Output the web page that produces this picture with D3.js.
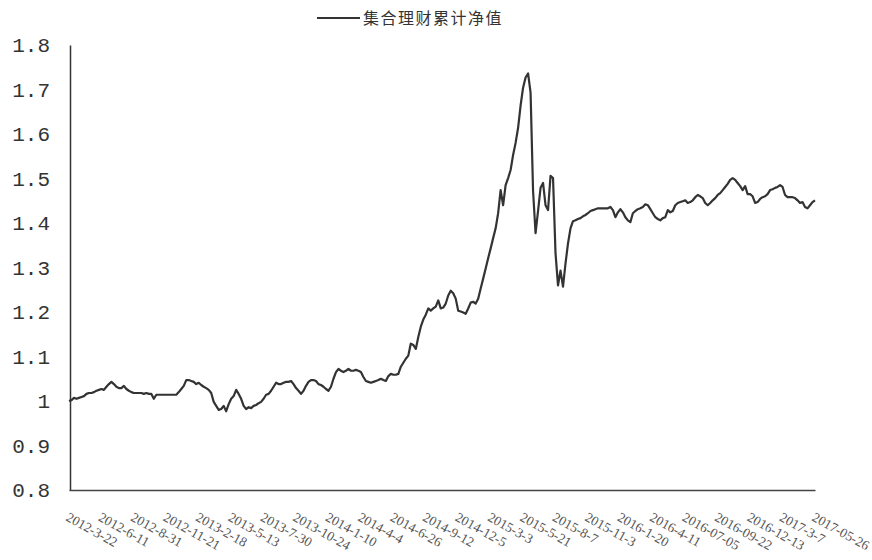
<!DOCTYPE html>
<html>
<head>
<meta charset="utf-8">
<script src="https://cdn.jsdelivr.net/npm/d3@7"></script>
<style>
  body { margin: 0; background: #fff; }
</style>
</head>
<body>
<svg id="chart"></svg>
<script>
// accumulated NAV at even steps along the x axis
const navValues = [
  1.000, 1.002, 1.007, 1.005, 1.007, 1.009, 1.011, 1.016, 1.018, 1.018,
  1.020, 1.023, 1.025, 1.027, 1.025, 1.032, 1.038, 1.043, 1.038, 1.032,
  1.029, 1.029, 1.034, 1.027, 1.023, 1.020, 1.018, 1.018, 1.018, 1.018,
  1.016, 1.018, 1.016, 1.016, 1.005, 1.014, 1.014, 1.014, 1.014, 1.014,
  1.014, 1.014, 1.014, 1.014, 1.020, 1.027, 1.034, 1.047, 1.047, 1.045,
  1.043, 1.038, 1.041, 1.036, 1.032, 1.029, 1.025, 1.018, 0.998, 0.989,
  0.980, 0.982, 0.989, 0.977, 0.993, 1.005, 1.011, 1.025, 1.016, 1.005,
  0.989, 0.982, 0.986, 0.984, 0.989, 0.991, 0.995, 0.998, 1.005, 1.014,
  1.016, 1.023, 1.032, 1.041, 1.038, 1.038, 1.041, 1.043, 1.043, 1.045,
  1.038, 1.029, 1.023, 1.016, 1.023, 1.034, 1.043, 1.047, 1.047, 1.045,
  1.038, 1.036, 1.032, 1.027, 1.023, 1.032, 1.050, 1.065, 1.072, 1.068,
  1.065, 1.068, 1.072, 1.068, 1.068, 1.070, 1.068, 1.065, 1.054, 1.045,
  1.043, 1.041, 1.043, 1.045, 1.047, 1.050, 1.047, 1.045, 1.056, 1.061,
  1.059, 1.059, 1.061, 1.077, 1.086, 1.095, 1.102, 1.129, 1.126, 1.117,
  1.144, 1.167, 1.183, 1.194, 1.208, 1.203, 1.208, 1.212, 1.226, 1.208,
  1.210, 1.219, 1.237, 1.248, 1.242, 1.230, 1.203, 1.201, 1.199, 1.196,
  1.208, 1.221, 1.223, 1.219, 1.230, 1.253, 1.275, 1.298, 1.321, 1.343,
  1.366, 1.388, 1.422, 1.474, 1.440, 1.485, 1.501, 1.519, 1.553, 1.580,
  1.614, 1.664, 1.704, 1.727, 1.736, 1.693, 1.472, 1.377, 1.427, 1.479,
  1.490, 1.440, 1.429, 1.506, 1.501, 1.332, 1.260, 1.293, 1.257, 1.309,
  1.354, 1.388, 1.404, 1.406, 1.409, 1.411, 1.415, 1.418, 1.422, 1.427,
  1.429, 1.431, 1.433, 1.433, 1.433, 1.433, 1.433, 1.436, 1.429, 1.413,
  1.424, 1.431, 1.424, 1.413, 1.406, 1.402, 1.422, 1.427, 1.431, 1.433,
  1.436, 1.442, 1.440, 1.431, 1.422, 1.413, 1.409, 1.406, 1.411, 1.413,
  1.429, 1.424, 1.427, 1.440, 1.445, 1.447, 1.449, 1.451, 1.445, 1.447,
  1.451, 1.458, 1.463, 1.460, 1.456, 1.445, 1.440, 1.445, 1.451, 1.456,
  1.463, 1.467, 1.474, 1.481, 1.488, 1.497, 1.501, 1.497, 1.490, 1.483,
  1.474, 1.483, 1.465, 1.465, 1.460, 1.445, 1.447, 1.454, 1.458, 1.460,
  1.465, 1.474, 1.476, 1.479, 1.481, 1.485, 1.481, 1.463, 1.458, 1.458,
  1.458, 1.456, 1.451, 1.445, 1.447, 1.436, 1.433, 1.440, 1.447, 1.451
];

const yTicks = [0.8, 0.9, 1, 1.1, 1.2, 1.3, 1.4, 1.5, 1.6, 1.7, 1.8];
const yTickLabels = ["0.8", "0.9", "1", "1.1", "1.2", "1.3", "1.4", "1.5", "1.6", "1.7", "1.8"];

const dateLabels = [
  "2012-3-22", "2012-6-11", "2012-8-31", "2012-11-21", "2013-2-18", "2013-5-13",
  "2013-7-30", "2013-10-24", "2014-1-10", "2014-4-4", "2014-6-26", "2014-9-12",
  "2014-12-5", "2015-3-3", "2015-5-21", "2015-8-7", "2015-11-3", "2016-1-20",
  "2016-4-11", "2016-07-05", "2016-09-22", "2016-12-13", "2017-3-7", "2017-05-26"
];

const seriesName = "集合理财累计净值";

const W = 872, H = 560;
const margin = { top: 45, right: 52, bottom: 70, left: 70 };
const width = W - margin.left - margin.right;
const height = H - margin.top - margin.bottom;

const svg = d3.select("#chart")
    .attr("width", W)
    .attr("height", H);

const chart = svg.append("g")
    .attr("transform", `translate(${margin.left},${margin.top})`);

const xScale = d3.scaleLinear()
    .domain([0, navValues.length - 1])
    .range([-1, width - 5]);

const yScale = d3.scaleLinear()
    .domain([0.8, 1.8])
    .range([height, 0]);

// y axis: plain line with labels on the left
const yAxis = d3.axisLeft(yScale)
    .tickValues(yTicks)
    .tickSize(0)
    .tickPadding(20)
    .tickFormat((d, i) => yTickLabels[i]);

chart.append("g")
    .attr("class", "myY")
    .call(yAxis)
    .call(g => g.select(".domain").attr("stroke", "#333").attr("stroke-width", 1.5))
    .call(g => g.selectAll("text")
        .attr("font-family", "'Liberation Mono', 'DejaVu Sans Mono', monospace")
        .attr("font-size", 21)
        .attr("fill", "#333"));

// x axis: line only, date labels drawn rotated below
const xAxis = d3.axisBottom(xScale).tickValues([]).tickSize(0);
chart.append("g")
    .attr("class", "myX")
    .attr("transform", `translate(0, ${height})`)
    .call(xAxis)
    .call(g => g.select(".domain").attr("stroke", "#444").attr("stroke-width", 1.5));

const step = (navValues.length - 1) / (dateLabels.length - 1);
chart.selectAll(".dateLabel")
    .data(dateLabels)
    .join("text")
      .attr("class", "dateLabel")
      .attr("transform", (d, i) => `translate(${xScale(i * step) - 4},${height + 30}) rotate(29)`)
      .attr("text-anchor", "start")
      .attr("font-family", "'Liberation Serif', serif")
      .attr("font-size", 13.5)
      .attr("fill", "#555")
      .text(d => d);

const navLine = d3.line()
    .x((d, i) => xScale(i))
    .y(d => yScale(d));

chart.append("path")
    .datum(navValues)
    .attr("class", "line")
    .attr("fill", "none")
    .attr("stroke", "#333")
    .attr("stroke-width", 2.2)
    .attr("stroke-linejoin", "round")
    .attr("d", navLine);

// legend
svg.append("line")
    .attr("x1", 317).attr("x2", 360)
    .attr("y1", 18).attr("y2", 18)
    .attr("stroke", "#333")
    .attr("stroke-width", 2);

svg.append("text")
    .attr("x", 363)
    .attr("y", 24)
    .attr("font-family", "'Noto Sans CJK SC', sans-serif")
    .attr("font-size", 16)
    .attr("letter-spacing", 1.5)
    .attr("fill", "#333")
    .text(seriesName);
</script>
</body>
</html>
